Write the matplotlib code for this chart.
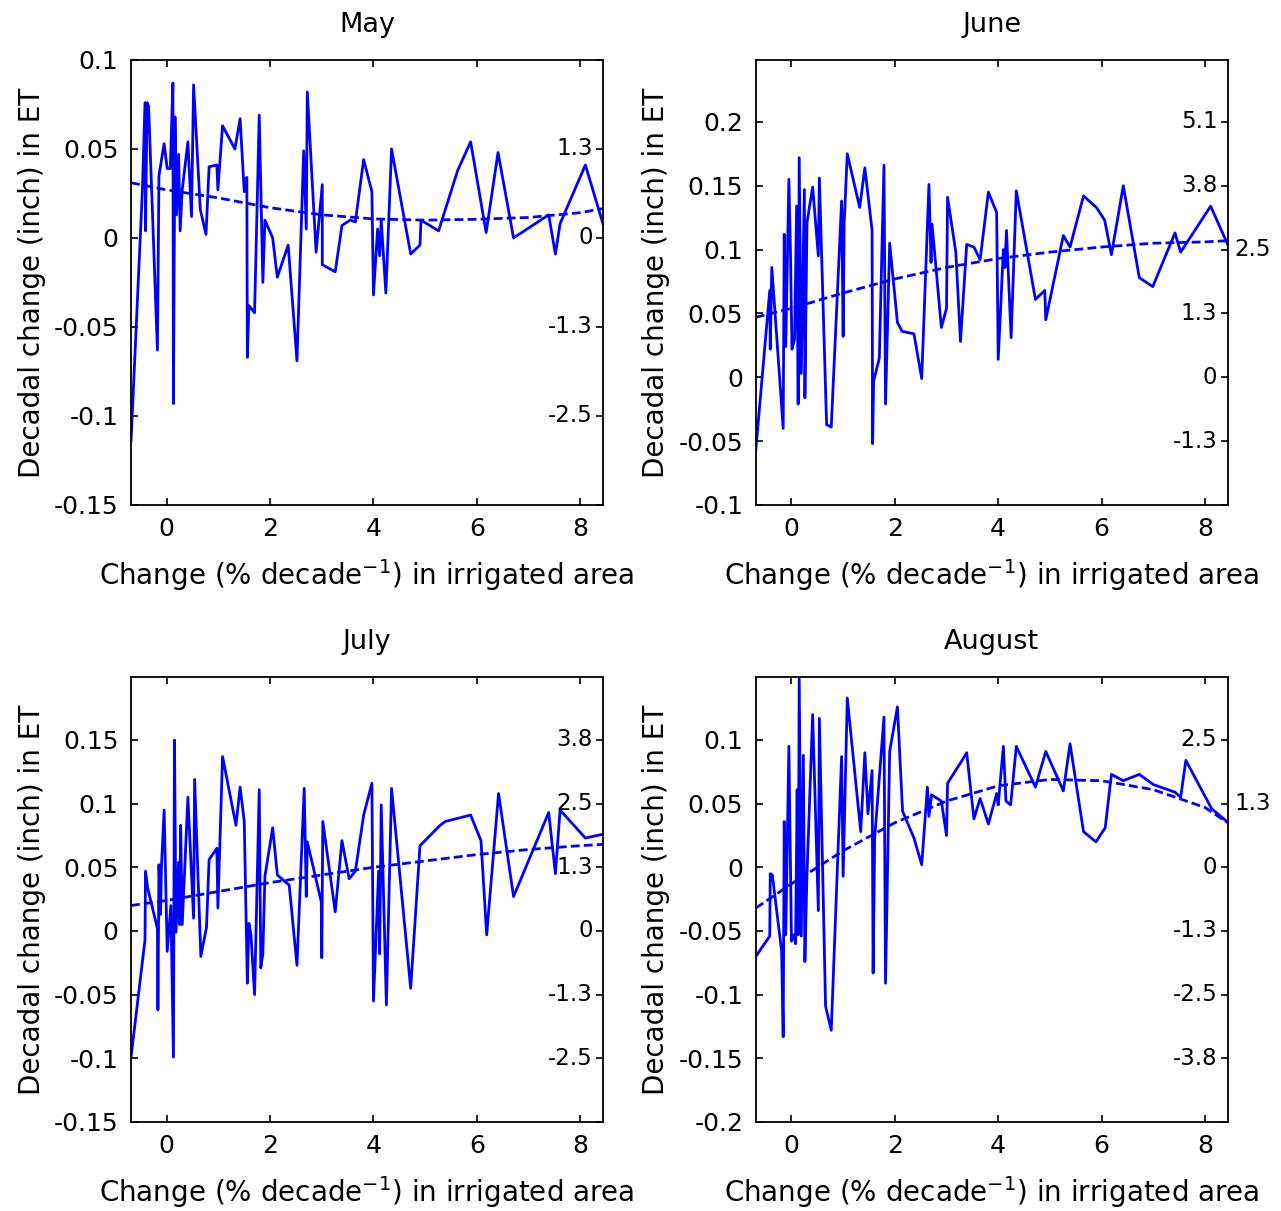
import matplotlib
matplotlib.use("Agg")
import matplotlib.pyplot as plt
from matplotlib.ticker import MultipleLocator, FuncFormatter

plt.rcParams["font.family"] = ["DejaVu Sans"]
plt.rcParams["mathtext.fontset"] = "dejavusans"
plt.rcParams["axes.unicode_minus"] = False

# ---- data ----
may_x = [-0.69, -0.47, -0.42, -0.41, -0.38, -0.35, -0.18, -0.15, -0.05, 0.01, 0.07, 0.10, 0.12, 0.13,
         0.16, 0.19, 0.23, 0.26, 0.30, 0.41, 0.48, 0.52, 0.65, 0.76, 0.82, 0.97, 0.99, 1.08, 1.32, 1.42,
         1.50, 1.55, 1.56, 1.59, 1.70, 1.79, 1.86, 1.90, 2.05, 2.14, 2.35, 2.52, 2.65, 2.70, 2.72, 2.89,
         3.01, 3.01, 3.26, 3.39, 3.55, 3.65, 3.81, 3.97, 4.00, 4.08, 4.12, 4.15, 4.24, 4.35, 4.72, 4.90,
         4.92, 5.26, 5.63, 5.88, 6.18, 6.41, 6.71, 7.39, 7.52, 7.61, 8.10, 8.44]
may_y = [-0.114, 0.027, 0.076, 0.004, 0.076, 0.074, -0.063, 0.035, 0.053, 0.039, 0.039, 0.068, 0.087,
         -0.093, 0.068, 0.013, 0.047, 0.004, 0.027, 0.054, 0.012, 0.086, 0.016, 0.002, 0.040, 0.041,
         0.027, 0.063, 0.050, 0.067, 0.026, 0.034, -0.067, -0.038, -0.042, 0.069, -0.025, 0.010, 0.000,
         -0.022, -0.004, -0.069, 0.049, 0.005, 0.082, -0.008, 0.030, -0.015, -0.019, 0.007, 0.010, 0.009,
         0.044, 0.026, -0.032, 0.005, -0.010, 0.010, -0.031, 0.050, -0.009, -0.004, 0.010, 0.004, 0.038,
         0.054, 0.003, 0.048, 0.000, 0.013, -0.009, 0.008, 0.041, 0.008]

june_x = [-0.69, -0.42, -0.41, -0.38, -0.16, -0.14, -0.11, -0.05, -0.02, 0.01, 0.06, 0.10, 0.13, 0.15,
          0.19, 0.25, 0.26, 0.30, 0.41, 0.52, 0.54, 0.68, 0.77, 0.97, 1.00, 1.02, 1.08, 1.32, 1.42, 1.56,
          1.57, 1.59, 1.70, 1.79, 1.82, 1.90, 2.05, 2.14, 2.37, 2.52, 2.66, 2.70, 2.72, 2.90, 3.00, 3.02,
          3.18, 3.27, 3.39, 3.53, 3.65, 3.81, 3.97, 4.00, 4.10, 4.13, 4.16, 4.25, 4.35, 4.72, 4.90, 4.92,
          5.26, 5.39, 5.65, 5.90, 6.06, 6.19, 6.42, 6.73, 6.99, 7.42, 7.53, 8.11, 8.45]
june_y = [-0.057, 0.068, 0.022, 0.086, -0.040, 0.112, 0.024, 0.155, 0.100, 0.022, 0.030, 0.134, -0.021,
          0.172, 0.003, 0.147, -0.016, 0.121, 0.149, 0.095, 0.156, -0.037, -0.039, 0.138, 0.032, 0.121,
          0.175, 0.133, 0.164, 0.115, -0.052, -0.003, 0.015, 0.166, -0.021, 0.105, 0.043, 0.036, 0.034,
          -0.001, 0.151, 0.090, 0.120, 0.039, 0.054, 0.141, 0.098, 0.028, 0.104, 0.102, 0.092, 0.145,
          0.129, 0.014, 0.100, 0.086, 0.115, 0.031, 0.146, 0.061, 0.068, 0.045, 0.111, 0.102, 0.142,
          0.133, 0.123, 0.096, 0.150, 0.078, 0.071, 0.113, 0.098, 0.134, 0.103]

july_x = [-0.69, -0.42, -0.41, -0.37, -0.18, -0.17, -0.15, -0.12, -0.10, -0.05, 0.01, 0.08, 0.13, 0.15,
          0.18, 0.23, 0.25, 0.27, 0.30, 0.41, 0.52, 0.54, 0.66, 0.77, 0.82, 0.97, 0.99, 1.08, 1.34, 1.42,
          1.50, 1.56, 1.59, 1.63, 1.70, 1.79, 1.82, 1.86, 1.90, 2.05, 2.14, 2.37, 2.52, 2.66, 2.70, 2.72,
          2.99, 3.00, 3.02, 3.26, 3.39, 3.53, 3.65, 3.81, 3.97, 4.00, 4.10, 4.12, 4.15, 4.25, 4.35, 4.72,
          4.90, 5.29, 5.39, 5.88, 6.08, 6.19, 6.42, 6.71, 7.39, 7.52, 7.61, 8.10, 8.44]
july_y = [-0.099, -0.007, 0.047, 0.034, 0.002, -0.062, 0.052, 0.013, 0.052, 0.095, -0.016, 0.020, -0.099,
          0.150, -0.001, 0.054, 0.005, 0.083, 0.005, 0.105, 0.010, 0.119, -0.020, 0.003, 0.056, 0.065,
          0.018, 0.137, 0.083, 0.113, 0.086, -0.041, 0.006, -0.003, -0.050, 0.111, -0.029, -0.018, 0.043,
          0.081, 0.044, 0.036, -0.027, 0.112, 0.027, 0.070, 0.023, -0.021, 0.086, 0.015, 0.071, 0.041,
          0.047, 0.091, 0.116, -0.055, 0.047, -0.018, 0.099, -0.058, 0.112, -0.045, 0.067, 0.083, 0.086,
          0.091, 0.071, -0.003, 0.108, 0.027, 0.093, 0.045, 0.095, 0.073, 0.076]

aug_x = [-0.69, -0.42, -0.41, -0.37, -0.19, -0.16, -0.14, -0.11, -0.05, 0.00, 0.05, 0.08, 0.11, 0.13,
         0.15, 0.19, 0.23, 0.26, 0.30, 0.41, 0.52, 0.54, 0.66, 0.77, 0.97, 1.00, 1.08, 1.34, 1.42, 1.48,
         1.56, 1.58, 1.61, 1.79, 1.82, 1.90, 2.05, 2.15, 2.37, 2.52, 2.63, 2.66, 2.71, 2.90, 3.00, 3.02,
         3.27, 3.39, 3.53, 3.65, 3.81, 3.97, 4.00, 4.10, 4.15, 4.24, 4.35, 4.72, 4.92, 5.26, 5.39, 5.65,
         5.89, 6.07, 6.19, 6.42, 6.73, 7.00, 7.42, 7.53, 7.63, 8.13, 8.45]
aug_y = [-0.070, -0.054, -0.005, -0.006, -0.066, -0.133, 0.036, -0.053, 0.095, -0.058, -0.053, -0.060,
         0.061, -0.053, 0.148, -0.054, 0.088, -0.074, -0.006, 0.120, -0.034, 0.117, -0.109, -0.128, 0.087,
         -0.007, 0.133, 0.028, 0.090, 0.042, 0.076, -0.083, 0.023, 0.118, -0.091, 0.091, 0.126, 0.044,
         0.023, 0.002, 0.063, 0.040, 0.057, 0.052, 0.025, 0.066, 0.082, 0.090, 0.038, 0.054, 0.034, 0.058,
         0.049, 0.095, 0.052, 0.049, 0.095, 0.063, 0.091, 0.060, 0.097, 0.028, 0.020, 0.031, 0.073, 0.068,
         0.073, 0.065, 0.059, 0.055, 0.084, 0.046, 0.035]

# dashed trend curves, sampled from the figure
fit_x = [-0.69, 0, 1, 2, 3, 4, 5, 6, 7, 8, 8.44]
may_fit = [0.031, 0.027, 0.0225, 0.017, 0.013, 0.0107, 0.0100, 0.0105, 0.0115, 0.0142, 0.0165]
june_fit = [0.047, 0.054, 0.066, 0.077, 0.086, 0.093, 0.098, 0.102, 0.105, 0.106, 0.107]
july_fit = [0.020, 0.024, 0.031, 0.038, 0.044, 0.050, 0.055, 0.060, 0.064, 0.067, 0.068]
aug_fit = [-0.032, -0.013, 0.013, 0.035, 0.052, 0.064, 0.069, 0.068, 0.061, 0.047, 0.035]

# right-hand mm labels
may_mm = [0.05, 0, -0.05, -0.1]
may_mm_lab = ["1.3", "0", "-1.3", "-2.5"]
june_mm = [0.2, 0.15, 0.1, 0.05, 0, -0.05]
june_mm_lab = ["5.1", "3.8", "2.5", "1.3", "0", "-1.3"]
july_mm = [0.15, 0.1, 0.05, 0, -0.05, -0.1]
july_mm_lab = ["3.8", "2.5", "1.3", "0", "-1.3", "-2.5"]
aug_mm = [0.1, 0.05, 0, -0.05, -0.1, -0.15]
aug_mm_lab = ["2.5", "1.3", "0", "-1.3", "-2.5", "-3.8"]

months = ["May", "June", "July", "August"]
ylims = [(-0.15, 0.1), (-0.1, 0.2485), (-0.15, 0.1995), (-0.2, 0.1495)]

panels = [
    (may_x, may_y, may_fit, may_mm, may_mm_lab, None),
    (june_x, june_y, june_fit, june_mm, june_mm_lab, "2.5"),
    (july_x, july_y, july_fit, july_mm, july_mm_lab, None),
    (aug_x, aug_y, aug_fit, aug_mm, aug_mm_lab, "1.3"),
]

fig = plt.figure(figsize=(12.81, 12.11), dpi=100)
lefts = [0.1023, 0.590]
bottoms = [0.583, 0.0735]
w, h = 0.3684, 0.3675

fmt = FuncFormatter(lambda v, p: "%g" % round(v, 4))

for i, (xs, ys, fit, mm, mm_lab, outside) in enumerate(panels):
    ax = fig.add_axes([lefts[i % 2], bottoms[i // 2], w, h])
    ax.plot(xs, ys, color="#0000ff", lw=2.0)
    ax.plot(fit_x, fit, color="#0000ff", lw=2.0, linestyle=(0, (3.2, 1.5)))
    ax.set_xlim(-0.69, 8.44)
    ax.set_ylim(*ylims[i])
    ax.xaxis.set_major_locator(MultipleLocator(2))
    ax.yaxis.set_major_locator(MultipleLocator(0.05))
    ax.yaxis.set_major_formatter(fmt)
    ax.tick_params(direction="in", top=True, right=True, length=5, width=1.2,
                   labelsize=18, pad=9)
    for s in ax.spines.values():
        s.set_linewidth(1.3)
    ax.set_title(months[i], fontsize=19.5, pad=20)
    ax.set_xlabel("Change (% decade$^{-1}$) in irrigated area", fontsize=20, labelpad=11)
    ax.set_ylabel("Decadal change (inch) in ET", fontsize=20, labelpad=6)
    for v, lab in zip(mm, mm_lab):
        if lab == outside:
            ax.text(1.014, v, lab, transform=ax.get_yaxis_transform(), ha="left",
                    va="center", fontsize=16.5, clip_on=False)
        else:
            ax.text(0.978, v, lab, transform=ax.get_yaxis_transform(), ha="right",
                    va="center", fontsize=16.5)

fig.savefig("out.png", dpi=100)
